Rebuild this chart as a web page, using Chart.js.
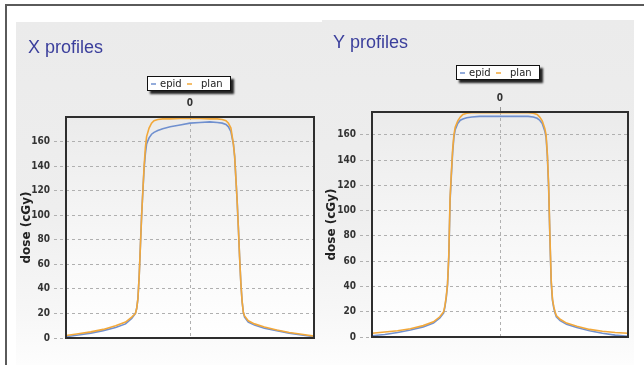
<!DOCTYPE html>
<html><head><meta charset="utf-8">
<script src="https://cdn.jsdelivr.net/npm/chart.js@4.4.1/dist/chart.umd.min.js"></script>
<style>
html,body{margin:0;padding:0;background:#fff;width:644px;height:365px;overflow:hidden;position:relative}
.ln{position:absolute;background:#5a5a5a}
.panel{position:absolute;background:linear-gradient(#ebebeb 0%,#eeeeee 55%,#f7f7f7 85%,#fdfdfd 100%)}
canvas{position:absolute;top:0}
</style></head><body>
<div class="ln" style="left:5px;top:4px;width:639px;height:2px"></div>
<div class="ln" style="left:5px;top:4px;width:2px;height:361px"></div>
<div class="panel" style="left:16px;top:22px;width:306px;height:343px"></div>
<div class="panel" style="left:322px;top:20px;width:312px;height:345px"></div>
<canvas id="cx" width="322" height="365" style="left:0"></canvas>
<canvas id="cy" width="322" height="365" style="left:322px"></canvas>
<script>
// ---- data ----
const chartTitles = ['X profiles', 'Y profiles'];
const seriesLabels = ['epid', 'plan'];
const yAxisTitle = 'dose (cGy)';
const xTickLabels = ['0'];
const yTickValues = [0, 20, 40, 60, 80, 100, 120, 140, 160];
const xPositions = [-100,-90,-80,-70,-60,-52,-47,-44,-43,-42,-41,-40,-39,-38,-37,-36,-35,-33,-31,-29,-26,-22,-16,-8,0,8,16,22,26,29,31,33,35,36,37,38,39,40,41,42,43,44,47,52,60,70,80,90,100];
const xProfileEpid = [1,2.5,4,6,8.5, 11.5,16,20,24,32, 50,75,100,120,138, 150,158,163,166,167.5, 169,170.5,172,173.5,175, 175.5,176,175.5,175,174, 172,168,158,148,130, 112,90,66,45,30, 21,17,13,10.5,8, 6,4,2.5,1];
const xProfilePlan = [2,3.5,5,7,10, 13,17,20,24,32, 50,75,100,120,140, 155,164,171,175,177, 178,178.5,178.5,178.8,179, 178.8,178.5,178.5,178,177, 175,171,158,148,130, 112,90,66,45,30, 21,18,14,11.5,9, 6.5,4.5,3,1.5];
const yProfileEpid = [1,2,3.5,5.5,8, 11,15,19,24,31, 41,63,108,128,146, 158,164,169,171.5,172.5, 173.5,174,174.5,174.5,174.5, 174.5,174.5,174.5,174,173, 171.5,169,163,158,143, 118,78,43,29,23, 19,16,13,10,7.5, 5,3,1.5,0.5];
const yProfilePlan = [3,4,5,6.5,9, 12,16,20,25,32, 42,65,110,130,148, 160,166,171,174,176, 177,177.5,177.5,177.5,177.5, 177.5,177.5,177.5,177,176, 174,171,165,160,145, 120,80,45,30,24, 20,17,14,11,8.5, 6,4.5,3.5,3];
const yMaxValues = [180, 178];

// ---- styling ----
const epidColor = '#7090cf';
const planColor = '#f2a83a';
const tickFont = {family: "'Liberation Sans Narrow', 'DejaVu Sans Condensed', sans-serif", size: 10, weight: 'bold'};

const deco = {
  id: 'deco',
  beforeDraw(chart) {
    const {ctx, chartArea: a} = chart;
    const g = ctx.createLinearGradient(0, a.top, 0, a.bottom);
    g.addColorStop(0, '#ebebeb');
    g.addColorStop(0.7, '#fafafa');
    g.addColorStop(1, '#ffffff');
    ctx.save();
    ctx.fillStyle = g;
    ctx.fillRect(a.left, a.top, a.right - a.left, a.bottom - a.top);
    ctx.restore();
  },
  afterDraw(chart) {
    const {ctx, chartArea: a} = chart;
    const L = chart.options.plugins.deco;
    ctx.save();
    ctx.strokeStyle = '#2e2e2e';
    ctx.lineWidth = 2;
    ctx.strokeRect(a.left, a.top, a.right - a.left, a.bottom - a.top);
    ctx.fillStyle = '#3b3f9c';
    ctx.font = "18px 'Liberation Sans', Arial, sans-serif";
    ctx.textBaseline = 'alphabetic';
    ctx.textAlign = 'left';
    ctx.fillText(L.title, L.titleX, L.titleY);
    const bx = L.legX, by = L.legY, bw = 84, bh = 15;
    ctx.save();
    ctx.shadowColor = 'rgba(0,0,0,0.85)';
    ctx.shadowOffsetX = 3; ctx.shadowOffsetY = 3; ctx.shadowBlur = 2;
    ctx.fillStyle = '#fff';
    ctx.fillRect(bx, by, bw, bh);
    ctx.restore();
    ctx.strokeStyle = '#111'; ctx.lineWidth = 1;
    ctx.strokeRect(bx + 0.5, by + 0.5, bw - 1, bh - 1);
    const ds = chart.data.datasets;
    const offs = [[4, 13], [40, 54]];
    ctx.font = "10px 'DejaVu Sans', sans-serif";
    ctx.textBaseline = 'middle';
    ds.forEach((d, i) => {
      ctx.strokeStyle = d.borderColor; ctx.lineWidth = 1.5;
      ctx.beginPath();
      ctx.moveTo(bx + offs[i][0], by + bh / 2 + 0.5);
      ctx.lineTo(bx + offs[i][0] + 5, by + bh / 2 + 0.5);
      ctx.stroke();
      ctx.fillStyle = '#222';
      ctx.fillText(d.label, bx + offs[i][1], by + bh / 2 + 0.5);
    });
    ctx.restore();
  }
};

function makeChart(id, idx, epid, plan, L) {
  new Chart(document.getElementById(id), {
    type: 'line',
    data: {
      datasets: [
        {label: seriesLabels[0], order: 1, data: xPositions.map((x, i) => ({x, y: epid[i]})), borderColor: epidColor, borderWidth: 1.6, pointRadius: 0, tension: 0},
        {label: seriesLabels[1], order: 0, data: xPositions.map((x, i) => ({x, y: plan[i]})), borderColor: planColor, borderWidth: 1.6, pointRadius: 0, tension: 0}
      ]
    },
    options: {
      responsive: false, animation: false, events: [],
      layout: {padding: {left: 0, top: 0, right: L.right, bottom: L.bottom}},
      plugins: {
        legend: {display: false}, tooltip: {enabled: false},
        deco: {title: chartTitles[idx], titleX: L.titleX, titleY: L.titleY, legX: L.legX, legY: L.legY}
      },
      scales: {
        x: {
          type: 'linear', position: 'top', min: -100, max: 100,
          afterBuildTicks: s => { s.ticks = [{value: 0}]; },
          afterFit: s => { s.height = L.top; },
          grid: {color: '#b0b0b0', lineWidth: 1, tickLength: 5, tickColor: '#9a9a9a', tickBorderDash: []},
          border: {display: false, dash: [3, 3]},
          ticks: {font: tickFont, color: '#333', padding: 3, maxRotation: 0, callback: () => xTickLabels[0]}
        },
        y: {
          min: 0, max: yMaxValues[idx],
          afterBuildTicks: s => { s.ticks = yTickValues.map(v => ({value: v})); },
          afterFit: s => { s.width = L.left; },
          grid: {color: '#b0b0b0', lineWidth: 1, tickLength: 12, tickColor: '#b0b0b0', tickBorderDash: [3, 3]},
          border: {display: false, dash: [3, 3]},
          ticks: {font: tickFont, color: '#333', padding: 4},
          title: {display: true, text: yAxisTitle, color: '#222', font: {family: "'DejaVu Sans', sans-serif", size: 12, weight: 'bold'}, padding: {top: L.titlePad, bottom: 0}}
        }
      }
    },
    plugins: [deco]
  });
}

makeChart('cx', 0, xProfileEpid, xProfilePlan, {left: 66, top: 117, right: 8, bottom: 27, titlePad: 20, titleX: 28, titleY: 53, legX: 147, legY: 76});
makeChart('cy', 1, yProfileEpid, yProfilePlan, {left: 50, top: 112, right: 16, bottom: 28, titlePad: 3, titleX: 11, titleY: 48, legX: 134, legY: 65});
</script>
</body></html>
